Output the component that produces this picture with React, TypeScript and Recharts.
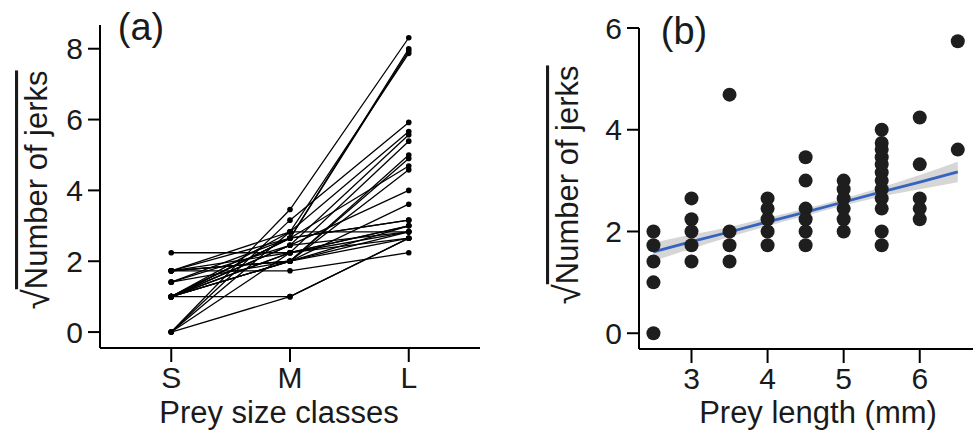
import { ComposedChart, Line, Scatter, Area, XAxis, YAxis } from "recharts";

// panel (a): one line per individual across prey size classes
const classes = ["S", "M", "L"];
const jerksS = [2.24, 1.0, 0, 1.73, 0, 0, 0, 0, 1.0, 1.0, 1.0, 1.0, 1.0, 1.0, 1.0, 1.0, 1.41, 1.41, 1.73, 1.73, 1.73, 1.73, 1.0, 1.73, 1.41, 1.0, 1.73, 1.0];
const jerksM = [2.24, 1.0, 1.0, 1.73, 3.46, 3.16, 2.83, 2.24, 2.65, 2.65, 2.83, 2.45, 2.24, 2.0, 2.0, 2.65, 2.0, 2.45, 2.0, 2.65, 2.24, 2.0, 2.24, 2.83, 2.65, 2.45, 2.0, 2.0];
const jerksL = [2.83, 2.65, 2.65, 2.24, 8.31, 5.92, 7.87, 3.0, 8.0, 7.94, 5.66, 5.57, 5.39, 5.0, 4.9, 4.69, 4.58, 4.0, 3.61, 3.16, 3.0, 2.83, 2.65, 2.83, 3.16, 2.83, 2.65, 3.0];

// panel (b): prey length vs jerks
const preyLength = [
  2.5, 2.5, 2.5, 2.5, 2.5,
  3, 3, 3, 3, 3,
  3.5, 3.5, 3.5, 3.5,
  4, 4, 4, 4, 4,
  4.5, 4.5, 4.5, 4.5, 4.5, 4.5,
  5, 5, 5, 5, 5, 5,
  5.5, 5.5, 5.5, 5.5, 5.5, 5.5, 5.5, 5.5, 5.5, 5.5, 5.5, 5.5,
  6, 6, 6, 6, 6,
  6.5, 6.5,
];
const preyJerks = [
  2.0, 1.73, 1.41, 1.0, 0,
  2.65, 2.24, 2.0, 1.73, 1.41,
  4.69, 2.0, 1.73, 1.41,
  2.65, 2.45, 2.24, 2.0, 1.73,
  3.46, 3.0, 2.45, 2.24, 2.0, 1.73,
  3.0, 2.83, 2.65, 2.45, 2.24, 2.0,
  4.0, 3.74, 3.61, 3.46, 3.32, 3.16, 3.0, 2.83, 2.65, 2.45, 2.0, 1.73,
  4.24, 3.32, 2.65, 2.45, 2.24,
  5.74, 3.61,
];

// fitted line and its confidence band
const bandX = [2.5, 3, 3.5, 4, 4.5, 5, 5.5, 6, 6.5];
const bandFit = [1.6, 1.8, 1.99, 2.19, 2.38, 2.58, 2.78, 2.97, 3.17];
const bandLow = [1.42, 1.66, 1.89, 2.11, 2.31, 2.51, 2.69, 2.83, 2.97];
const bandHigh = [1.78, 1.94, 2.09, 2.27, 2.45, 2.65, 2.87, 3.11, 3.37];

const FONT = "'Liberation Sans', Arial, sans-serif";
const INK = "#1a1a1a";
const tickStyle = { fontSize: 30, fill: INK, fontFamily: FONT };

function SqrtLabel({ cx, cy }: { cx: number; cy: number }) {
  return (
    <text
      x={cx}
      y={cy}
      transform={`rotate(-90, ${cx}, ${cy})`}
      textAnchor="middle"
      dominantBaseline="central"
      fontSize={31}
      fontFamily={FONT}
      fill={INK}
    >
      <tspan fontSize={37}>√</tspan>
      <tspan style={{ textDecoration: "overline" }}>Number of jerks</tspan>
    </text>
  );
}

function PlainText({ x, y, text, size = 31 }: { x: number; y: number; text: string; size?: number }) {
  return (
    <text x={x} y={y} textAnchor="middle" dominantBaseline="central" fontSize={size} fontFamily={FONT} fill={INK}>
      {text}
    </text>
  );
}

function PanelA() {
  const rows = classes.map((c, ci) => {
    const row: Record<string, number | string> = { x: ci + 1, name: c };
    const src = ci === 0 ? jerksS : ci === 1 ? jerksM : jerksL;
    src.forEach((v, i) => (row[`s${i}`] = v));
    return row;
  });

  return (
    <ComposedChart width={490} height={432} data={rows} margin={{ top: 25, right: 10, bottom: 0, left: 40 }}>
      <XAxis
        dataKey="x"
        type="number"
        domain={[0.4, 3.6]}
        ticks={[1, 2, 3]}
        tickFormatter={(v) => classes[v - 1]}
        allowDataOverflow
        height={84}
        tickSize={14}
        tickMargin={5}
        tick={tickStyle}
        axisLine={{ stroke: "#000", strokeWidth: 2 }}
        tickLine={{ stroke: "#000", strokeWidth: 2 }}
        label={{ content: () => <PlainText x={279} y={412} text="Prey size classes" /> }}
      />
      <YAxis
        type="number"
        domain={[-0.45, 8.67]}
        ticks={[0, 2, 4, 6, 8]}
        allowDataOverflow
        width={60}
        tickSize={12}
        tickMargin={5}
        tick={tickStyle}
        axisLine={{ stroke: "#000", strokeWidth: 2 }}
        tickLine={{ stroke: "#000", strokeWidth: 2 }}
        label={{
          content: () => (
            <g>
              <SqrtLabel cx={36} cy={190} />
              <PlainText x={141} y={27} text="(a)" size={38} />
            </g>
          ),
        }}
      />
      {jerksS.map((_, i) => (
        <Line
          key={i}
          dataKey={`s${i}`}
          type="linear"
          stroke="#000"
          strokeWidth={1.3}
          dot={{ r: 2.8, fill: "#000", stroke: "none" }}
          activeDot={false}
          isAnimationActive={false}
        />
      ))}
    </ComposedChart>
  );
}

function PanelB() {
  const points = preyLength.map((x, i) => ({ x, y: preyJerks[i] }));
  const band = bandX.map((x, i) => ({ x, band: [bandLow[i], bandHigh[i]] }));
  const fit = bandX.map((x, i) => ({ x, fit: bandFit[i] }));

  return (
    <ComposedChart width={483} height={432} margin={{ top: 28, right: 0, bottom: 0, left: 89 }}>
      <XAxis
        dataKey="x"
        type="number"
        domain={[2.31, 6.7]}
        ticks={[3, 4, 5, 6]}
        allowDataOverflow
        height={83}
        tickSize={14}
        tickMargin={5}
        tick={tickStyle}
        axisLine={{ stroke: "#000", strokeWidth: 2 }}
        tickLine={{ stroke: "#000", strokeWidth: 2 }}
        label={{ content: () => <PlainText x={328} y={412} text="Prey length (mm)" /> }}
      />
      <YAxis
        type="number"
        domain={[-0.31, 6]}
        ticks={[0, 2, 4, 6]}
        allowDataOverflow
        width={60}
        tickSize={12}
        tickMargin={5}
        tick={tickStyle}
        axisLine={{ stroke: "#000", strokeWidth: 2 }}
        tickLine={{ stroke: "#000", strokeWidth: 2 }}
        label={{
          content: () => (
            <g>
              <SqrtLabel cx={77} cy={185} />
              <PlainText x={194} y={31} text="(b)" size={38} />
            </g>
          ),
        }}
      />
      <Scatter
        data={points}
        dataKey="y"
        isAnimationActive={false}
        shape={(p: any) => <circle cx={p.cx} cy={p.cy} r={7} fill="#1e1e1e" />}
      />
      <Area
        data={band}
        dataKey="band"
        type="monotone"
        stroke="none"
        fill="#999999"
        fillOpacity={0.4}
        isAnimationActive={false}
        activeDot={false}
      />
      <Line
        data={fit}
        dataKey="fit"
        type="linear"
        stroke="#3563c0"
        strokeWidth={2.8}
        dot={false}
        activeDot={false}
        isAnimationActive={false}
      />
    </ComposedChart>
  );
}

export default function App() {
  return (
    <div style={{ position: "absolute", left: 0, top: 0, width: 973, height: 432, background: "#fff" }}>
      <div style={{ position: "absolute", left: 0, top: 0 }}>
        <PanelA />
      </div>
      <div style={{ position: "absolute", left: 490, top: 0 }}>
        <PanelB />
      </div>
    </div>
  );
}
